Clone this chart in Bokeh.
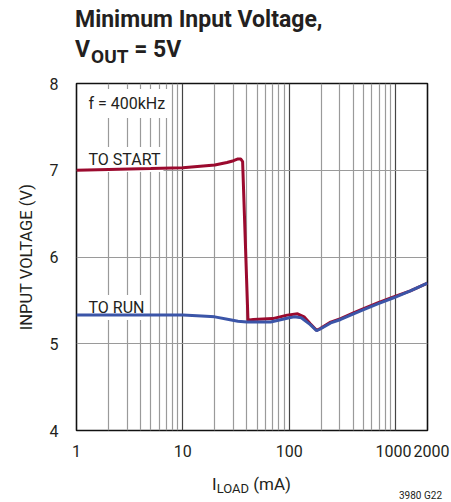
from bokeh.plotting import figure
from bokeh.models import Range1d, FixedTicker, Label, BasicTickFormatter, Div
from bokeh.layouts import column
from bokeh.embed import file_html
from bokeh.resources import INLINE

# ---- data ----
start_x = [1, 2, 5, 10, 20, 26, 30, 33, 35, 36.5, 41, 46, 70, 96, 120, 138, 158, 181,
           196, 246, 305, 403, 470, 680, 960, 1380, 2000]
start_y = [7.00, 7.01, 7.02, 7.03, 7.06, 7.09, 7.11, 7.13, 7.13, 7.10, 5.27, 5.28, 5.29,
           5.33, 5.345, 5.31, 5.23, 5.155, 5.175, 5.25, 5.29, 5.355, 5.39, 5.47, 5.54, 5.61, 5.70]

run_x = [1, 5, 10, 15, 20, 27, 33, 40, 50, 67, 85, 100, 112, 130, 158, 181, 196, 246,
         305, 403, 470, 680, 960, 1380, 2000]
run_y = [5.33, 5.33, 5.33, 5.32, 5.31, 5.28, 5.26, 5.25, 5.25, 5.25, 5.28, 5.30, 5.31,
         5.30, 5.22, 5.15, 5.17, 5.24, 5.28, 5.345, 5.38, 5.46, 5.53, 5.61, 5.70]

x_ticks = [1, 10, 100, 1000, 2000]
x_tick_labels = ["1", "10", "100", "1000\u00a0", "\u00a0\u00a02000"]
x_minor = [m * d for d in (1, 10, 100) for m in range(2, 10)]
y_ticks = [4, 5, 6, 7, 8]

FONT = "Roboto"
TXT = "#231f20"

# ---- title (HTML, for the subscript) ----
title_html = f"""
<div style="position:relative;width:451px;height:70px;font-family:{FONT};color:{TXT};font-weight:bold;">
  <div style="position:absolute;left:75px;top:8px;font-size:23px;line-height:1;white-space:nowrap;">Minimum Input Voltage,</div>
  <div style="position:absolute;left:75px;top:38px;font-size:23px;line-height:1;white-space:nowrap;">V<span style="font-size:19px;position:relative;top:6px;margin-left:1px;">OUT</span> = 5V</div>
</div>"""
title_div = Div(text=title_html, width=451, height=70, margin=(0, 0, 0, 0))

# ---- plot ----
p = figure(width=451, height=393, x_axis_type="log",
           x_range=Range1d(1, 2000), y_range=Range1d(4, 8),
           output_backend="svg", toolbar_location=None,
           min_border_left=76, min_border_right=24, min_border_top=13, min_border_bottom=32,
           margin=(0, 0, 0, 0))

p.background_fill_color = "white"
p.border_fill_color = "white"
p.outline_line_color = "#111111"
p.outline_line_width = 1.6

xt = FixedTicker(ticks=x_ticks, minor_ticks=x_minor)
yt = FixedTicker(ticks=y_ticks)

p.xaxis.ticker = xt
p.yaxis.ticker = yt
p.xaxis.formatter = BasicTickFormatter()
p.xaxis.major_label_overrides = {t: s for t, s in zip(x_ticks, x_tick_labels)}

for ax in (p.xaxis[0], p.yaxis[0]):
    ax.axis_line_color = None
    ax.major_tick_line_color = None
    ax.minor_tick_line_color = None
    ax.major_label_text_font = FONT
    ax.major_label_text_font_size = "16px"
    ax.major_label_text_color = TXT
p.xaxis.major_label_standoff = 5
p.yaxis.major_label_standoff = 12

p.yaxis.axis_label = "INPUT VOLTAGE (V)"
p.yaxis.axis_label_text_font = FONT
p.yaxis.axis_label_text_font_size = "16.5px"
p.yaxis.axis_label_text_font_style = "normal"
p.yaxis.axis_label_text_color = TXT
p.yaxis.axis_label_standoff = 11

p.xgrid.ticker = xt
p.xgrid.grid_line_color = "#444444"
p.xgrid.grid_line_width = 1.2
p.xgrid.minor_grid_line_color = "#9a9a9a"
p.xgrid.minor_grid_line_width = 1.2
p.ygrid.ticker = yt
p.ygrid.grid_line_color = "#9a9a9a"
p.ygrid.grid_line_width = 1.2

def lab(text, x, y, pad):
    l = Label(x=x, y=y, x_units="screen", y_units="screen", text=text,
              text_font=FONT, text_font_size="16px", text_color=TXT,
              text_align="left", text_baseline="alphabetic",
              background_fill_color="white", padding=pad, level="underlay")
    p.add_layout(l)

# in-plot labels (under the curves, over the grid)
lab("f = 400kHz", 7, 327, 5)
lab("TO START", 9, 271, 3)
lab("TO RUN", 9, 123, 3)

p.line(start_x, start_y, line_color="#9b0a2e", line_width=3)
p.line(run_x, run_y, line_color="#3b55a8", line_width=3)

# ---- x-axis label and figure code (HTML, for the subscript) ----
foot_html = f"""
<div style="position:relative;width:451px;height:39px;font-family:{FONT};color:{TXT};">
  <div style="position:absolute;left:212px;top:13px;font-size:17px;line-height:1;white-space:nowrap;">I<span style="font-size:13px;position:relative;top:3px;">LOAD</span> (mA)</div>
  <div style="position:absolute;left:399px;top:28px;font-size:10px;line-height:1;white-space:nowrap;">3980 G22</div>
</div>"""
foot_div = Div(text=foot_html, width=451, height=39, margin=(0, 0, 0, 0))

layout = column(title_div, p, foot_div, spacing=0)

open("out.html", "w").write(file_html(layout, INLINE))
